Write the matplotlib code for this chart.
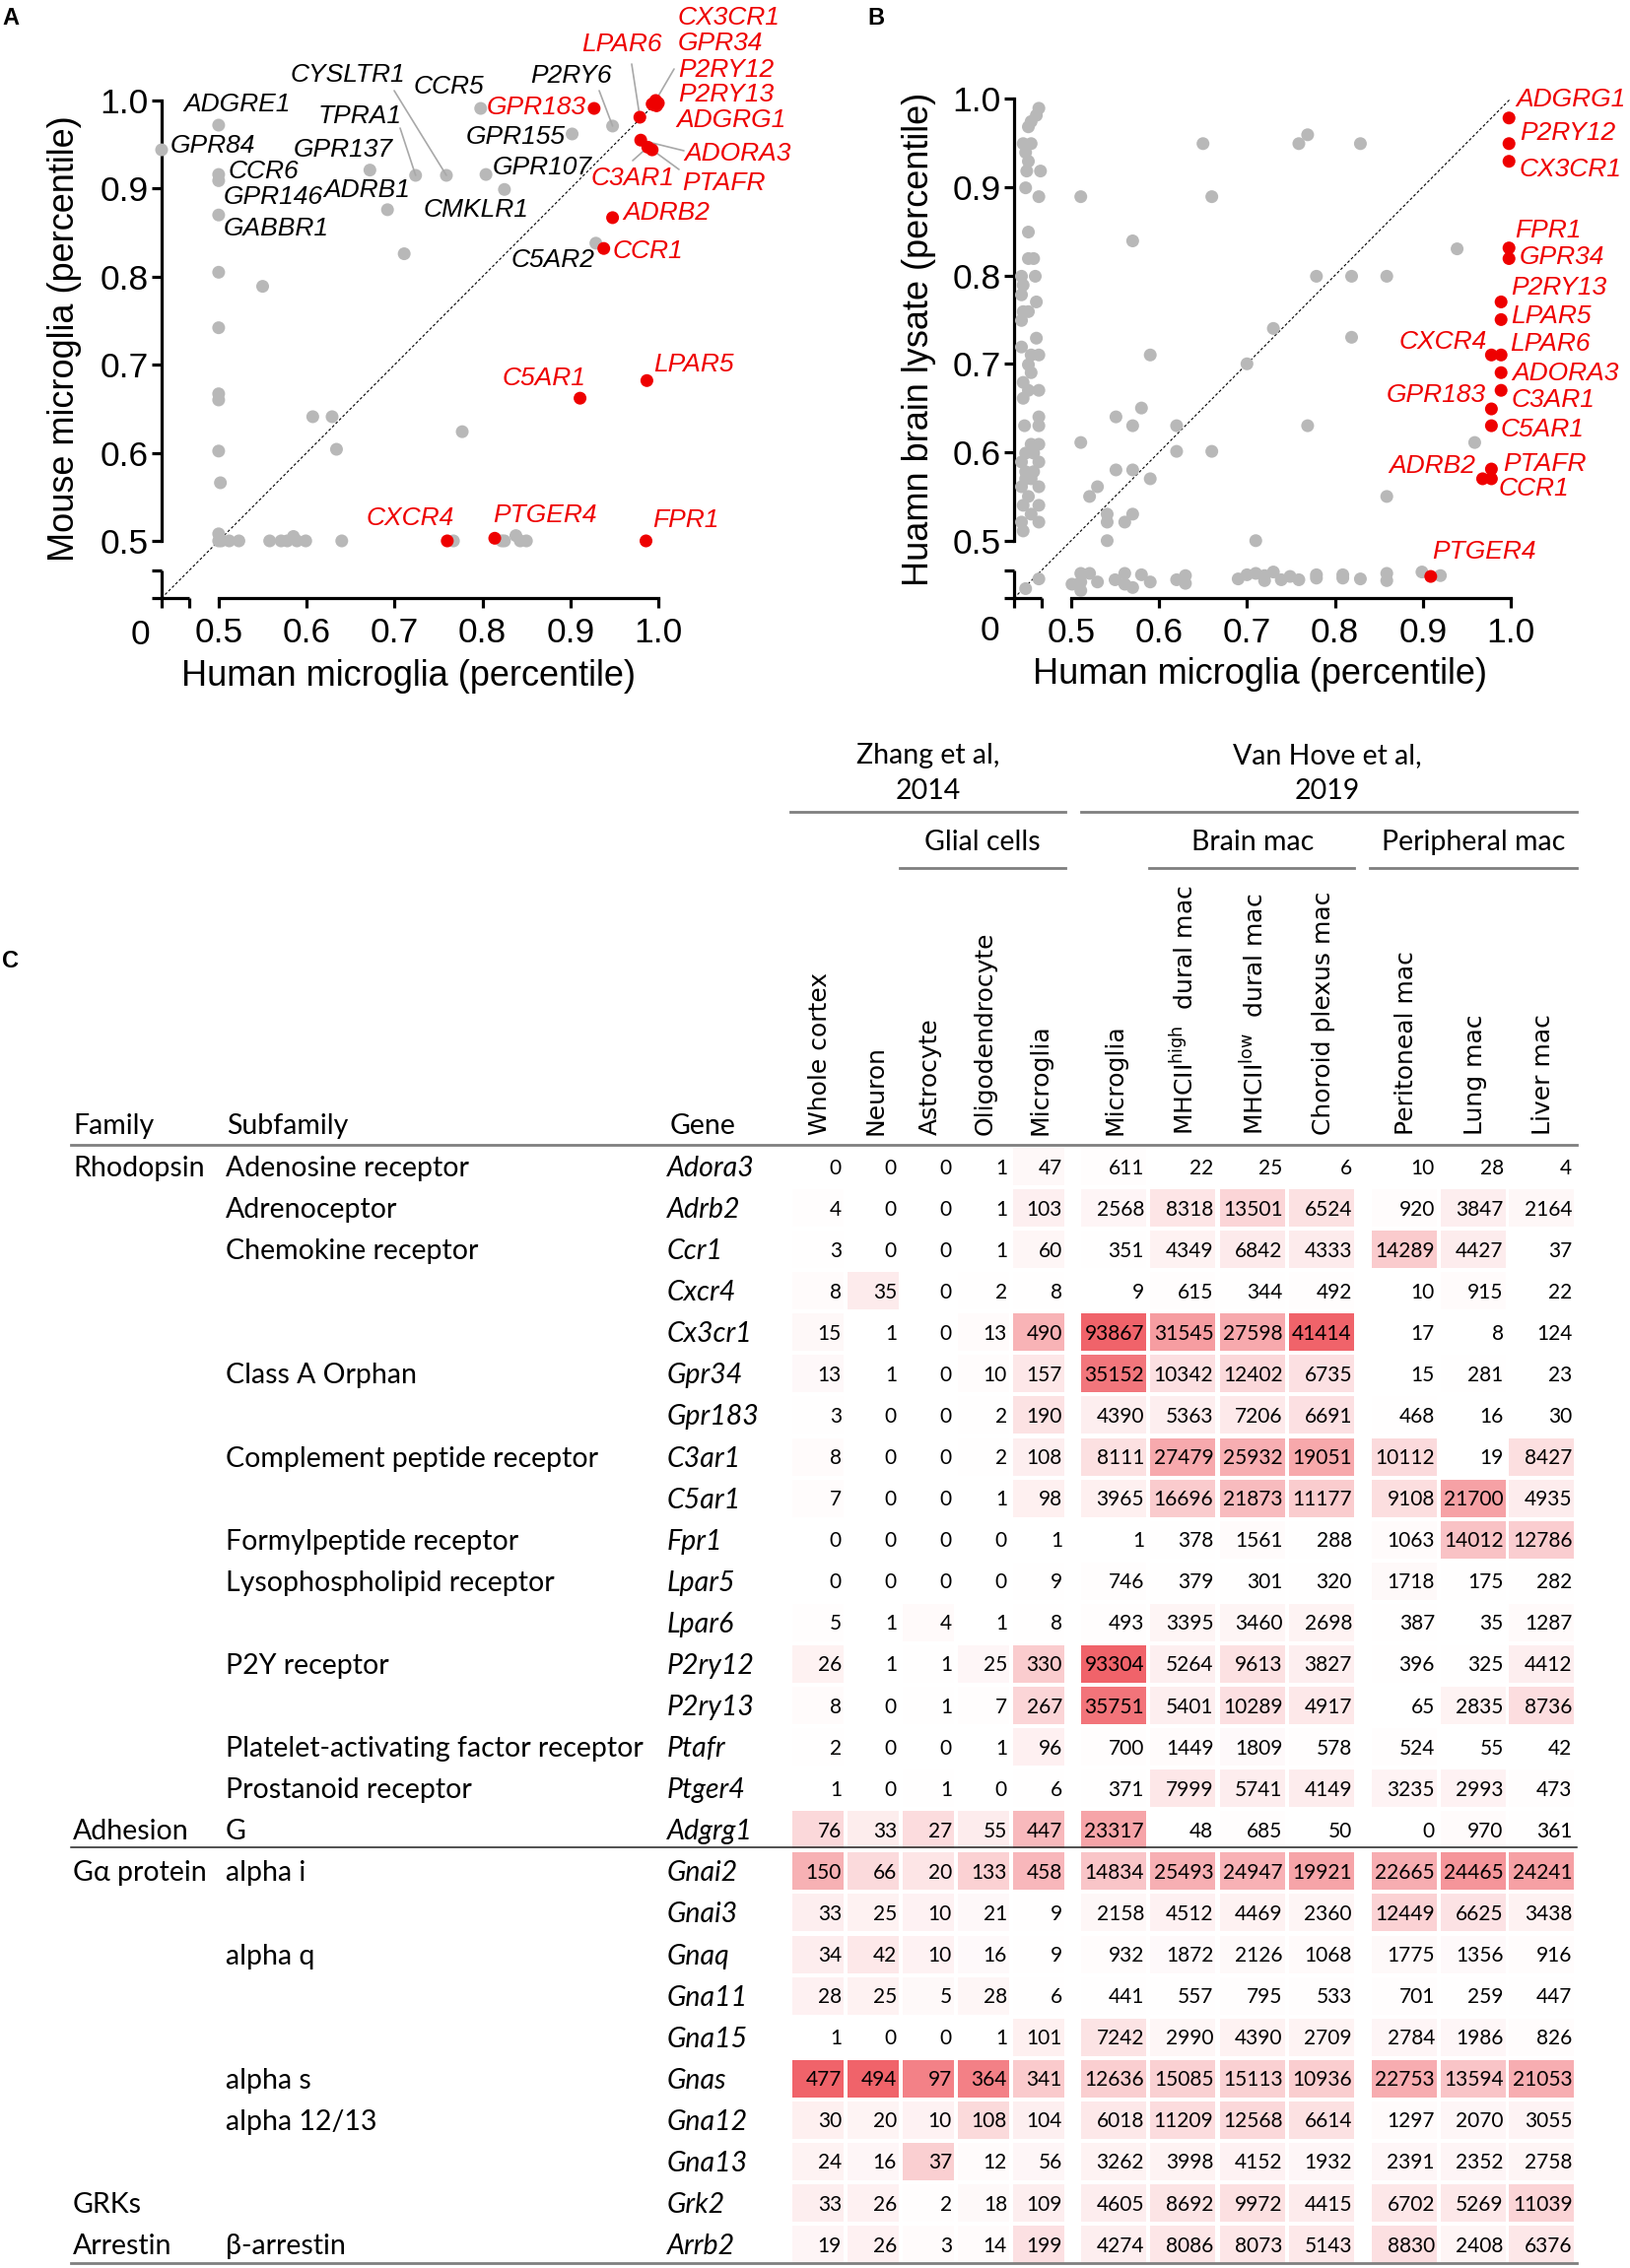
import numpy as np
import matplotlib
matplotlib.use("Agg")
import matplotlib.pyplot as plt
from matplotlib.patches import Rectangle
from matplotlib.colors import LinearSegmentedColormap

plt.rcParams['font.family'] = ['Liberation Sans', 'DejaVu Sans']
plt.rcParams['mathtext.fontset'] = 'dejavusans'

W, H = 1654, 2302

# ======================= Panel A data =======================
a_lab_gray_genes = ['GPR84', 'ADGRE1', 'CCR6', 'GPR146', 'GABBR1', 'GPR137', 'ADRB1', 'TPRA1',
                    'CYSLTR1', 'CCR5', 'CMKLR1', 'GPR107', 'GPR155', 'P2RY6', 'C5AR2']
a_lab_gray_x = [0.0, 0.5, 0.5, 0.5, 0.5, 0.672, 0.692, 0.724, 0.759, 0.798, 0.804, 0.825, 0.902, 0.948, 0.929]
a_lab_gray_y = [0.944, 0.972, 0.916, 0.909, 0.870, 0.921, 0.876, 0.915, 0.915, 0.991, 0.916, 0.899, 0.962, 0.971, 0.838]

a_other_x = [0.5, 0.550, 0.5, 0.5, 0.5, 0.5, 0.502, 0.711, 0.607, 0.629, 0.634, 0.777,
             0.5, 0.5, 0.503, 0.512, 0.523, 0.558, 0.571, 0.578, 0.585, 0.589, 0.599, 0.640,
             0.767, 0.822, 0.825, 0.838, 0.843, 0.850]
a_other_y = [0.805, 0.789, 0.742, 0.667, 0.660, 0.602, 0.566, 0.826, 0.641, 0.641, 0.604, 0.624,
             0.508, 0.5, 0.5, 0.5, 0.5, 0.5, 0.5, 0.5, 0.505, 0.5, 0.5, 0.5,
             0.5, 0.5, 0.5, 0.506, 0.5, 0.5]

a_red_genes = ['GPR183', 'LPAR6', 'CX3CR1', 'GPR34', 'P2RY12', 'P2RY13', 'ADGRG1', 'ADORA3', 'C3AR1',
               'PTAFR', 'ADRB2', 'CCR1', 'C5AR1', 'LPAR5', 'CXCR4', 'PTGER4', 'FPR1']
a_red_x = [0.927, 0.979, 0.993, 1.0, 0.997, 0.998, 0.995, 0.980, 0.988, 0.993, 0.948, 0.938,
           0.911, 0.987, 0.760, 0.814, 0.986]
a_red_y = [0.991, 0.981, 0.996, 0.997, 1.0, 0.994, 0.995, 0.955, 0.947, 0.944, 0.867, 0.832,
           0.662, 0.682, 0.5, 0.503, 0.5]

# ======================= Panel B data =======================
b_red_genes = ['ADGRG1', 'P2RY12', 'CX3CR1', 'FPR1', 'GPR34', 'P2RY13', 'LPAR5', 'LPAR6', 'CXCR4',
               'ADORA3', 'C3AR1', 'GPR183', 'C5AR1', 'PTAFR', 'ADRB2', 'CCR1', 'PTGER4']
b_red_x = [0.998, 0.998, 0.998, 0.998, 0.998, 0.989, 0.989, 0.989, 0.978, 0.989, 0.989, 0.978,
           0.978, 0.978, 0.968, 0.978, 0.909]
b_red_y = [0.978, 0.949, 0.929, 0.831, 0.819, 0.770, 0.750, 0.710, 0.710, 0.690, 0.670, 0.649,
           0.630, 0.581, 0.570, 0.570, 0.078]

b_main_x = [0.650, 0.759, 0.769, 0.829, 0.511, 0.660, 0.570, 0.939, 0.779, 0.819, 0.859, 0.730,
            0.819, 0.590, 0.700, 0.580, 0.551, 0.570, 0.620, 0.769, 0.511, 0.959, 0.620, 0.660,
            0.551, 0.570, 0.590, 0.530, 0.521, 0.859, 0.541, 0.570, 0.541, 0.561, 0.541, 0.710]
b_main_y = [0.949, 0.949, 0.959, 0.949, 0.889, 0.889, 0.839, 0.830, 0.799, 0.799, 0.799, 0.740,
            0.730, 0.710, 0.700, 0.650, 0.640, 0.630, 0.630, 0.630, 0.611, 0.611, 0.601, 0.601,
            0.580, 0.580, 0.570, 0.561, 0.550, 0.550, 0.530, 0.530, 0.521, 0.521, 0.500, 0.500]

b_low_y_x = [0.501, 0.511, 0.521, 0.511, 0.511, 0.530, 0.550, 0.561, 0.561, 0.570, 0.580, 0.590,
             0.620, 0.630, 0.630, 0.690, 0.700, 0.710, 0.720, 0.720, 0.730, 0.739, 0.749, 0.759,
             0.779, 0.779, 0.809, 0.809, 0.829, 0.859, 0.859, 0.899, 0.920]
b_low_y_y = [0.050, 0.089, 0.089, 0.058, 0.027, 0.058, 0.066, 0.089, 0.050, 0.038, 0.084, 0.058,
             0.066, 0.081, 0.053, 0.069, 0.084, 0.089, 0.081, 0.063, 0.094, 0.066, 0.078, 0.066,
             0.084, 0.072, 0.084, 0.072, 0.069, 0.089, 0.063, 0.094, 0.081]

b_low_x_x = [0.090, 0.081, 0.062, 0.052, 0.033, 0.062, 0.042, 0.052, 0.046, 0.096, 0.042, 0.090,
             0.052, 0.052, 0.071, 0.027, 0.077, 0.033, 0.027, 0.081, 0.033, 0.052, 0.027, 0.081,
             0.027, 0.062, 0.090, 0.052, 0.062, 0.033, 0.052, 0.090, 0.033, 0.090, 0.090, 0.038,
             0.062, 0.090, 0.042, 0.071, 0.027, 0.090, 0.042, 0.062, 0.027, 0.090, 0.052, 0.033,
             0.090, 0.062, 0.027, 0.090, 0.033, 0.042, 0.071, 0.042, 0.090]
b_low_x_y = [0.989, 0.981, 0.974, 0.968, 0.949, 0.949, 0.939, 0.929, 0.918, 0.918, 0.899, 0.889,
             0.849, 0.819, 0.819, 0.799, 0.799, 0.789, 0.778, 0.770, 0.759, 0.759, 0.749, 0.729,
             0.719, 0.710, 0.710, 0.699, 0.690, 0.679, 0.670, 0.670, 0.661, 0.640, 0.630, 0.630,
             0.609, 0.609, 0.599, 0.599, 0.589, 0.589, 0.578, 0.570, 0.561, 0.561, 0.550, 0.540,
             0.540, 0.530, 0.521, 0.521, 0.511, 0.570, 0.578, 0.034, 0.069]

# ======================= Panel C data =======================
family = ['Rhodopsin', '', '', '', '', '', '', '', '', '', '', '', '', '', '', '', 'Adhesion',
          'Gα protein', '', '', '', '', '', '', '', 'GRKs', 'Arrestin']
subfamily = ['Adenosine receptor', 'Adrenoceptor', 'Chemokine receptor', '', '', 'Class A Orphan', '',
             'Complement peptide receptor', '', 'Formylpeptide receptor', 'Lysophospholipid receptor', '',
             'P2Y receptor', '', 'Platelet-activating factor receptor', 'Prostanoid receptor', 'G',
             'alpha i', '', 'alpha q', '', '', 'alpha s', 'alpha 12/13', '', '', 'β-arrestin']
genes = ['Adora3', 'Adrb2', 'Ccr1', 'Cxcr4', 'Cx3cr1', 'Gpr34', 'Gpr183', 'C3ar1', 'C5ar1', 'Fpr1',
         'Lpar5', 'Lpar6', 'P2ry12', 'P2ry13', 'Ptafr', 'Ptger4', 'Adgrg1', 'Gnai2', 'Gnai3', 'Gnaq',
         'Gna11', 'Gna15', 'Gnas', 'Gna12', 'Gna13', 'Grk2', 'Arrb2']

whole_cortex = [0, 4, 3, 8, 15, 13, 3, 8, 7, 0, 0, 5, 26, 8, 2, 1, 76, 150, 33, 34, 28, 1, 477, 30, 24, 33, 19]
neuron = [0, 0, 0, 35, 1, 1, 0, 0, 0, 0, 0, 1, 1, 0, 0, 0, 33, 66, 25, 42, 25, 0, 494, 20, 16, 26, 26]
astrocyte = [0, 0, 0, 0, 0, 0, 0, 0, 0, 0, 0, 4, 1, 1, 0, 1, 27, 20, 10, 10, 5, 0, 97, 10, 37, 2, 3]
oligodendrocyte = [1, 1, 1, 2, 13, 10, 2, 2, 1, 0, 0, 1, 25, 7, 1, 0, 55, 133, 21, 16, 28, 1, 364, 108, 12, 18, 14]
microglia_zhang = [47, 103, 60, 8, 490, 157, 190, 108, 98, 1, 9, 8, 330, 267, 96, 6, 447, 458, 9, 9, 6, 101,
                   341, 104, 56, 109, 199]
microglia_vh = [611, 2568, 351, 9, 93867, 35152, 4390, 8111, 3965, 1, 746, 493, 93304, 35751, 700, 371, 23317,
                14834, 2158, 932, 441, 7242, 12636, 6018, 3262, 4605, 4274]
mhcii_high = [22, 8318, 4349, 615, 31545, 10342, 5363, 27479, 16696, 378, 379, 3395, 5264, 5401, 1449, 7999,
              48, 25493, 4512, 1872, 557, 2990, 15085, 11209, 3998, 8692, 8086]
mhcii_low = [25, 13501, 6842, 344, 27598, 12402, 7206, 25932, 21873, 1561, 301, 3460, 9613, 10289, 1809, 5741,
             685, 24947, 4469, 2126, 795, 4390, 15113, 12568, 4152, 9972, 8073]
choroid = [6, 6524, 4333, 492, 41414, 6735, 6691, 19051, 11177, 288, 320, 2698, 3827, 4917, 578, 4149, 50,
           19921, 2360, 1068, 533, 2709, 10936, 6614, 1932, 4415, 5143]
peritoneal = [10, 920, 14289, 10, 17, 15, 468, 10112, 9108, 1063, 1718, 387, 396, 65, 524, 3235, 0, 22665,
              12449, 1775, 701, 2784, 22753, 1297, 2391, 6702, 8830]
lung = [28, 3847, 4427, 915, 8, 281, 16, 19, 21700, 14012, 175, 35, 325, 2835, 55, 2993, 970, 24465, 6625,
        1356, 259, 1986, 13594, 2070, 2352, 5269, 2408]
liver = [4, 2164, 37, 22, 124, 23, 30, 8427, 4935, 12786, 282, 1287, 4412, 8736, 42, 473, 361, 24241, 3438,
         916, 447, 826, 21053, 3055, 2758, 11039, 6376]

columns = [whole_cortex, neuron, astrocyte, oligodendrocyte, microglia_zhang, microglia_vh, mhcii_high,
           mhcii_low, choroid, peritoneal, lung, liver]
col_names = ['Whole cortex', 'Neuron', 'Astrocyte', 'Oligodendrocyte', 'Microglia', 'Microglia',
             'MHCII$^{\\mathrm{high}}$  dural mac', 'MHCII$^{\\mathrm{low}}$  dural mac',
             'Choroid plexus mac', 'Peritoneal mac', 'Lung mac', 'Liver mac']
# colour-scale maximum of each column (values above are saturated)
col_vmax = [300, 280, 120, 450, 1000, 40000, 50000, 50000, 34000, 43000, 36000, 40000]

# ======================= Figure =======================
fig = plt.figure(figsize=(W / 100, H / 100), dpi=100)
axc = fig.add_axes([0, 0, 1, 1], zorder=0)
axc.set_xlim(0, W)
axc.set_ylim(H, 0)
axc.axis('off')

RED = '#ee0000'
GRAY = '#b8b8b8'
LEAD = '#a8a8a8'

BRK_D = [0.0, 0.1, 0.5, 1.0]
BRK_P = [0.0, 28.0, 58.0, 505.0]


def _pw(v, xs, ys):
    v = np.asarray(v, dtype=float)
    out = np.interp(v, xs, ys)
    s0 = (ys[1] - ys[0]) / (xs[1] - xs[0])
    s1 = (ys[-1] - ys[-2]) / (xs[-1] - xs[-2])
    out = np.where(v < xs[0], ys[0] + (v - xs[0]) * s0, out)
    out = np.where(v > xs[-1], ys[-1] + (v - xs[-1]) * s1, out)
    return out


def fwd(v):
    return _pw(v, BRK_D, BRK_P)


def inv(p):
    return _pw(p, BRK_P, BRK_D)


def make_panel(left_px, top_px, right_px, bottom_px):
    ax = fig.add_axes([left_px / W, 1 - bottom_px / H, (right_px - left_px) / W, (bottom_px - top_px) / H],
                      zorder=2)
    ax.patch.set_alpha(0)
    ax.set_xscale('function', functions=(fwd, inv))
    ax.set_yscale('function', functions=(fwd, inv))
    ax.set_xlim(0, 1)
    ax.set_ylim(0, 1)
    for s in ['top', 'right']:
        ax.spines[s].set_visible(False)
    lw = 2.3
    for s in ['left', 'bottom']:
        ax.spines[s].set_bounds(0.5, 1.0)
        ax.spines[s].set_linewidth(lw)
    ticks = [0, 0.1, 0.5, 0.6, 0.7, 0.8, 0.9, 1.0]
    labels = ['', '', '0.5', '0.6', '0.7', '0.8', '0.9', '1.0']
    ax.set_xticks(ticks)
    ax.set_xticklabels(labels)
    ax.set_yticks(ticks)
    ax.set_yticklabels(labels)
    ax.minorticks_off()
    ax.tick_params(axis='both', length=7.5, width=lw, labelsize=25.5)
    ax.tick_params(axis='x', pad=6)
    ax.tick_params(axis='y', pad=2)
    ax.plot([0, 0.1], [0, 0], color='k', lw=lw, clip_on=False, solid_capstyle='butt')
    ax.plot([0, 0], [0, 0.1], color='k', lw=lw, clip_on=False, solid_capstyle='butt')
    ax.plot([0, 1], [0, 1], color='k', lw=0.8, ls=(0, (2.5, 2)), clip_on=False)
    return ax


def put_labels(ax, names, xs, ys, layout, color):
    for g, x, y in zip(names, xs, ys):
        if g not in layout:
            continue
        px, py, ha, lead = layout[g]
        ax.annotate(g, xy=(x, y), xycoords='data', xytext=(px, H - py), textcoords='figure pixels',
                    ha=ha, va='center', fontsize=19, style='italic', color=color,
                    annotation_clip=False)
        if lead is not None:
            ax.annotate('', xy=(x, y), xycoords='data', xytext=(lead[0], H - lead[1]),
                        textcoords='figure pixels', annotation_clip=False,
                        arrowprops=dict(arrowstyle='-', color=LEAD, lw=1.2, shrinkA=0, shrinkB=0))


# ---------- Panel A ----------
axA = make_panel(164, 102, 668, 607)
axA.scatter(a_other_x, a_other_y, s=88, color=GRAY, edgecolors='none', clip_on=False, zorder=3)
axA.scatter(a_lab_gray_x, a_lab_gray_y, s=88, color=GRAY, edgecolors='none', clip_on=False, zorder=3)
axA.scatter(a_red_x, a_red_y, s=88, color=RED, edgecolors='none', clip_on=False, zorder=4)
axA.set_xlabel('Human microglia (percentile)', fontsize=26, va='center')
axA.xaxis.set_label_coords((415 - 164) / 504, (607 - 687) / 505)
axA.set_ylabel('Mouse microglia (percentile)', fontsize=26, va='center')
axA.yaxis.set_label_coords((66 - 164) / 504, (607 - 344) / 505)
axA.annotate('0', xy=(0, 0), xycoords='data', xytext=(-22, -38), textcoords='offset pixels',
             ha='center', va='center', fontsize=25.5, annotation_clip=False)

A_LAYOUT = {
    'GPR84': (173, 148, 'left', None),
    'ADGRE1': (186, 106, 'left', None),
    'CCR6': (232, 174, 'left', None),
    'GPR146': (227, 200, 'left', None),
    'GABBR1': (227, 232, 'left', None),
    'GPR137': (298, 152, 'left', None),
    'ADRB1': (328, 193, 'left', None),
    'TPRA1': (323, 118, 'left', (406, 130)),
    'CYSLTR1': (295, 76, 'left', (400, 92)),
    'CCR5': (420, 88, 'left', None),
    'CMKLR1': (430, 213, 'left', None),
    'GPR107': (500, 170, 'left', None),
    'GPR155': (473, 139, 'left', None),
    'P2RY6': (538, 77, 'left', (608, 92)),
    'C5AR2': (519, 264, 'left', None),
    'GPR183': (595, 109, 'right', None),
    'LPAR6': (590, 45, 'left', (641, 65)),
    'CX3CR1': (688, 18, 'left', None),
    'GPR34': (688, 44, 'left', None),
    'P2RY12': (688, 71, 'left', (684, 70)),
    'P2RY13': (688, 96, 'left', None),
    'ADGRG1': (686, 122, 'left', None),
    'ADORA3': (694, 156, 'left', (694, 153)),
    'C3AR1': (600, 181, 'left', (642, 163)),
    'PTAFR': (692, 186, 'left', (689, 172)),
    'ADRB2': (632, 216, 'left', None),
    'CCR1': (622, 255, 'left', None),
    'C5AR1': (510, 384, 'left', None),
    'LPAR5': (663, 370, 'left', None),
    'CXCR4': (372, 526, 'left', None),
    'PTGER4': (500, 523, 'left', None),
    'FPR1': (662, 528, 'left', None),
}
put_labels(axA, a_lab_gray_genes, a_lab_gray_x, a_lab_gray_y, A_LAYOUT, 'black')
put_labels(axA, a_red_genes, a_red_x, a_red_y, A_LAYOUT, RED)

# ---------- Panel B ----------
axB = make_panel(1029, 100, 1533, 607)
axB.scatter(b_main_x, b_main_y, s=88, color=GRAY, edgecolors='none', clip_on=False, zorder=3)
axB.scatter(b_low_y_x, b_low_y_y, s=88, color=GRAY, edgecolors='none', clip_on=False, zorder=3)
axB.scatter(b_low_x_x, b_low_x_y, s=88, color=GRAY, edgecolors='none', clip_on=False, zorder=3)
axB.scatter(b_red_x, b_red_y, s=88, color=RED, edgecolors='none', clip_on=False, zorder=4)
axB.set_xlabel('Human microglia (percentile)', fontsize=26, va='center')
axB.xaxis.set_label_coords((1279 - 1029) / 504, (607 - 684) / 507)
axB.set_ylabel('Huamn brain lysate (percentile)', fontsize=26, va='center')
axB.yaxis.set_label_coords((932 - 1029) / 504, (607 - 344) / 507)
axB.annotate('0', xy=(0, 0), xycoords='data', xytext=(-25, -34), textcoords='offset pixels',
             ha='center', va='center', fontsize=25.5, annotation_clip=False)

B_LAYOUT = {
    'ADGRG1': (1538, 101, 'left', None),
    'P2RY12': (1542, 135, 'left', None),
    'CX3CR1': (1542, 172, 'left', None),
    'FPR1': (1537, 234, 'left', None),
    'GPR34': (1542, 261, 'left', None),
    'P2RY13': (1533, 292, 'left', None),
    'LPAR5': (1533, 321, 'left', None),
    'CXCR4': (1509, 347, 'right', None),
    'LPAR6': (1532, 349, 'left', None),
    'ADORA3': (1534, 379, 'left', None),
    'GPR183': (1508, 401, 'right', None),
    'C3AR1': (1534, 406, 'left', None),
    'C5AR1': (1523, 436, 'left', None),
    'ADRB2': (1497, 473, 'right', None),
    'PTAFR': (1525, 471, 'left', None),
    'CCR1': (1521, 496, 'left', None),
    'PTGER4': (1453, 560, 'left', None),
}
put_labels(axB, b_red_genes, b_red_x, b_red_y, B_LAYOUT, RED)

# panel letters
for letter, (lx, ly) in {'A': (2, 18), 'B': (880, 18), 'C': (2, 975)}.items():
    axc.text(lx, ly, letter, fontsize=17, fontweight='bold', ha='left', va='center')

# ---------- Panel C (table heat map) ----------
TFONT = ['Lato', 'DejaVu Sans']
cmap = LinearSegmentedColormap.from_list('wr', ['#ffffff', '#f0636a'])

col_left = [804 + 56 * i for i in range(5)] + [1097 + 70.3 * i for i in range(4)] + \
           [1392 + 69.7 * i for i in range(3)]
col_w = [52] * 5 + [66] * 7
ROW0, PITCH, CELL_H = 1184, 42.08, 38

for j, col in enumerate(columns):
    for i, v in enumerate(col):
        rc = ROW0 + PITCH * i
        frac = min(v / col_vmax[j], 1.0)
        axc.add_patch(Rectangle((col_left[j], rc - CELL_H / 2), col_w[j], CELL_H,
                                facecolor=cmap(frac), edgecolor='none', zorder=1))
        axc.text(col_left[j] + col_w[j] - 2, rc + 7.5, str(v), ha='right', va='baseline',
                 fontsize=15, family=TFONT, zorder=2)

for i in range(len(genes)):
    rc = ROW0 + PITCH * i
    base = rc + 10
    if family[i]:
        axc.text(74, base, family[i], fontsize=20.5, family=TFONT, va='baseline', ha='left')
    if subfamily[i]:
        axc.text(229, base, subfamily[i], fontsize=20.5, family=TFONT, va='baseline', ha='left')
    axc.text(677, base, genes[i], fontsize=20.5, family=TFONT, style='italic', va='baseline', ha='left')

# column headers
for j, name in enumerate(col_names):
    cx = col_left[j] + col_w[j] / 2 + 2
    axc.text(cx, 1152, name, rotation=90, ha='center', va='bottom', fontsize=18, family='DejaVu Sans')

for txt, x in [('Family', 74), ('Subfamily', 230), ('Gene', 680)]:
    axc.text(x, 1151, txt, fontsize=20.5, family=TFONT, va='baseline', ha='left')

# group headers
for txt, x, y in [('Zhang et al,', 942, 767), ('2014', 942, 803), ('Van Hove et al,', 1347, 767),
                  ('2019', 1347, 803), ('Glial cells', 997, 855), ('Brain mac', 1271, 855),
                  ('Peripheral mac', 1495, 855)]:
    axc.text(x, y, txt, fontsize=20.5, family=TFONT, ha='center', va='center')

LG = '#7f7f7f'
for x0, x1, y in [(802, 1081, 824), (1097, 1600, 824), (913, 1081, 881), (1166, 1374, 881),
                  (1390, 1600, 881)]:
    axc.plot([x0, x1], [y, y], color=LG, lw=2)
axc.plot([72, 1600], [1162, 1162], color=LG, lw=2)
axc.plot([72, 1600], [1875, 1875], color='#222222', lw=1.1)
axc.plot([72, 1600], [2297, 2297], color=LG, lw=2)

fig.savefig('out.png', dpi=100)
